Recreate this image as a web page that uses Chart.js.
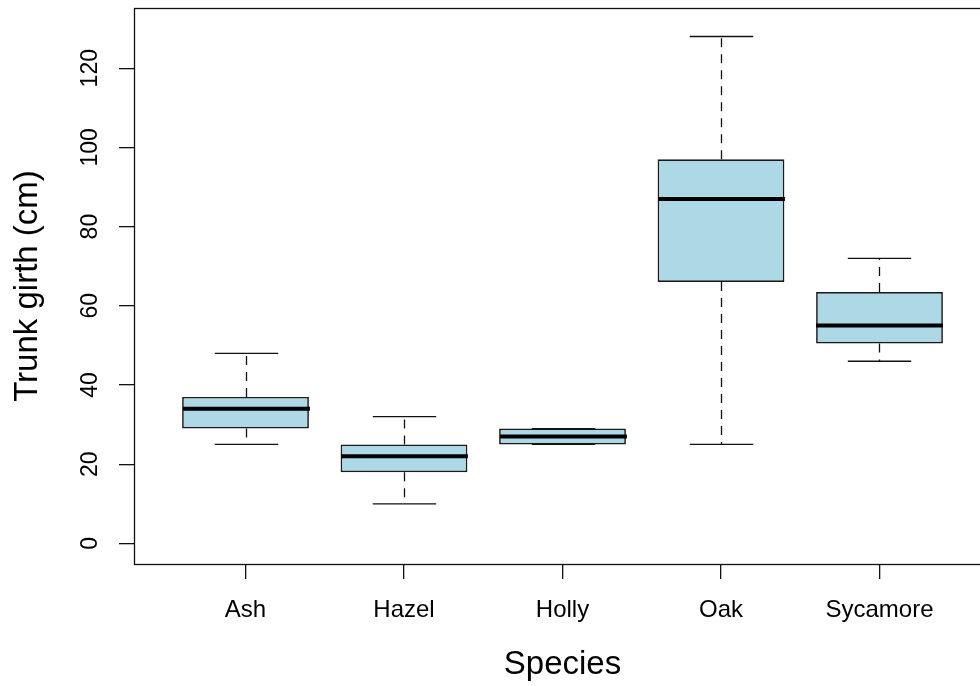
<!DOCTYPE html>
<html>
<head>
<meta charset="utf-8">
<script src="https://cdn.jsdelivr.net/npm/chart.js@4.4.0/dist/chart.umd.min.js"></script>
<style>
  html, body { margin: 0; padding: 0; background: #fff; overflow: hidden; }
  #wrap { width: 1000px; height: 686px; }
</style>
</head>
<body>
<div id="wrap"><canvas id="myChart" width="1000" height="686"></canvas></div>
<script>
// boxplot data
const species = ['Ash', 'Hazel', 'Holly', 'Oak', 'Sycamore'];
const lowWhisker = [25, 10, 25, 25, 46];
const q1 = [29, 18, 25, 66, 50.5];
const median = [34, 22, 27, 87, 55];
const q3 = [37, 25, 29, 97, 63.5];
const highWhisker = [48, 32, 29, 128, 72];
const yTicks = [0, 20, 40, 60, 80, 100, 120];

const FONT = '"Liberation Sans", Arial, Helvetica, sans-serif';

// floating bars for the boxes
let boxData = [];
for (let i = 0; i < species.length; i++) {
  boxData.push({ x: i + 1, y: [q1[i], q3[i]] });
}

// whiskers, caps, medians, frame and rotated y labels
const boxExtras = {
  id: 'boxExtras',
  afterDatasetsDraw(chart) {
    const ctx = chart.ctx;
    const xs = chart.scales.x;
    const ys = chart.scales.y;
    const unit = xs.getPixelForValue(2) - xs.getPixelForValue(1);
    const capHalf = unit * 0.2;
    const boxHalf = unit * 0.4;
    ctx.save();
    for (let i = 0; i < species.length; i++) {
      const cx = Math.round(xs.getPixelForValue(i + 1)) + 0.5;
      const yLo = ys.getPixelForValue(lowWhisker[i]);
      const yQ1 = ys.getPixelForValue(q1[i]);
      const yQ3 = ys.getPixelForValue(q3[i]);
      const yHi = ys.getPixelForValue(highWhisker[i]);
      const yMed = ys.getPixelForValue(median[i]);

      // dashed whiskers
      ctx.strokeStyle = '#111';
      ctx.lineWidth = 1.3;
      ctx.setLineDash([9, 7]);
      ctx.beginPath();
      ctx.moveTo(cx, yQ3); ctx.lineTo(cx, yHi);
      ctx.moveTo(cx, yQ1); ctx.lineTo(cx, yLo);
      ctx.stroke();

      // caps
      ctx.setLineDash([]);
      ctx.beginPath();
      ctx.moveTo(cx - capHalf, yHi); ctx.lineTo(cx + capHalf, yHi);
      ctx.moveTo(cx - capHalf, yLo); ctx.lineTo(cx + capHalf, yLo);
      ctx.stroke();

      // median
      ctx.strokeStyle = '#000';
      ctx.lineWidth = 4;
      ctx.beginPath();
      ctx.moveTo(cx - boxHalf, yMed); ctx.lineTo(cx + boxHalf, yMed);
      ctx.stroke();
    }

    // frame
    const a = chart.chartArea;
    ctx.strokeStyle = '#111';
    ctx.lineWidth = 1.3;
    ctx.strokeRect(Math.round(a.left) + 0.5, Math.round(a.top) + 0.5,
                   Math.round(a.right - a.left), Math.round(a.bottom - a.top));

    // y tick labels, rotated like R
    ctx.fillStyle = '#000';
    ctx.font = '23px ' + FONT;
    ctx.textAlign = 'center';
    ctx.textBaseline = 'middle';
    for (let j = 0; j < yTicks.length; j++) {
      const py = ys.getPixelForValue(yTicks[j]);
      ctx.save();
      ctx.translate(91, py);
      ctx.rotate(-Math.PI / 2);
      ctx.fillText(String(yTicks[j]), 0, 0);
      ctx.restore();
    }
    ctx.restore();
  }
};

const ctx = document.getElementById('myChart').getContext('2d');
const myChart = new Chart(ctx, {
  type: 'bar',
  data: {
    datasets: [{
      data: boxData,
      backgroundColor: '#ADD8E6',
      borderColor: '#1a1a1a',
      borderWidth: 1.7,
      borderSkipped: false,
      barPercentage: 0.8,
      categoryPercentage: 1.0
    }]
  },
  options: {
    responsive: false,
    animation: false,
    layout: { padding: { top: 8, right: 9, left: 0, bottom: 0 } },
    plugins: {
      legend: { display: false },
      tooltip: { enabled: false }
    },
    scales: {
      x: {
        type: 'linear',
        offset: false,
        min: 0.2965,
        max: 5.7035,
        afterBuildTicks: function(scale) {
          scale.ticks = species.map((s, i) => ({ value: i + 1 }));
        },
        afterFit: function(scale) { scale.height = 122; },
        ticks: {
          callback: function(v) { return species[v - 1]; },
          color: '#000',
          font: { family: FONT, size: 24 },
          padding: 17,
          maxRotation: 0,
          autoSkip: false
        },
        grid: {
          offset: false,
          drawOnChartArea: false,
          drawTicks: true,
          tickLength: 15,
          color: '#111',
          lineWidth: 1.3
        },
        border: { display: false },
        title: {
          display: true,
          text: 'Species',
          color: '#000',
          font: { family: FONT, size: 33 },
          padding: { top: 0, bottom: 1 }
        }
      },
      y: {
        min: -5.2,
        max: 135.2,
        afterBuildTicks: function(scale) {
          scale.ticks = yTicks.map(v => ({ value: v }));
        },
        afterFit: function(scale) { scale.width = 134; },
        ticks: { display: false },
        grid: {
          drawOnChartArea: false,
          drawTicks: true,
          tickLength: 15,
          color: '#111',
          lineWidth: 1.3
        },
        border: { display: false },
        title: {
          display: true,
          text: 'Trunk girth (cm)',
          color: '#000',
          font: { family: FONT, size: 33 },
          padding: { top: 8, bottom: 0 }
        }
      }
    }
  },
  plugins: [boxExtras]
});
</script>
</body>
</html>
